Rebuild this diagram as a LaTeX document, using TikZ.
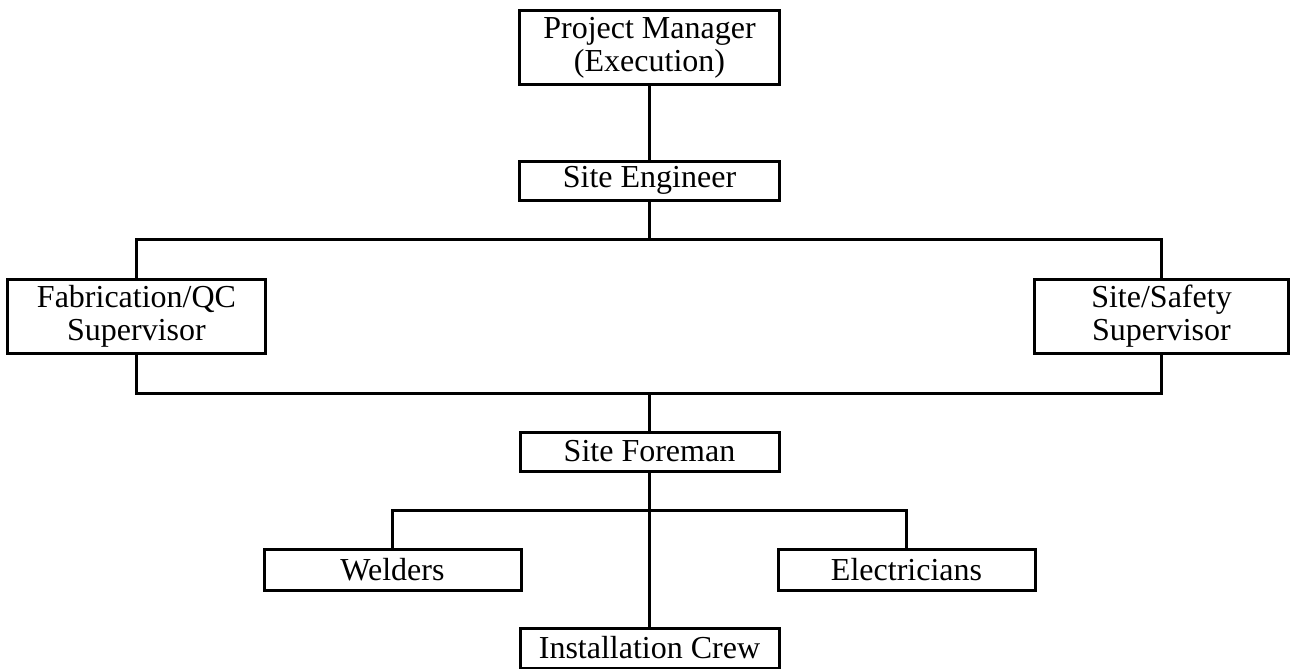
\documentclass[tikz,border=0pt]{standalone}
\usepackage{fontspec}
\setmainfont{Liberation Serif}
\usepackage{tikz}
\usetikzlibrary{positioning, calc}

\begin{document}
\begin{tikzpicture}[
  x=1pt, y=-1pt,
  box/.style={draw=black, fill=white, line width=3pt, inner sep=0pt, outer sep=0pt, align=center, font=\fontsize{32pt}{33pt}\selectfont},
  wide/.style={box, minimum width=259pt, minimum height=40pt},
  tall/.style={box, minimum width=258pt, minimum height=74pt},
  link/.style={line width=3pt, line cap=rect}
]
  \useasboundingbox (0,0) rectangle (1290,669);

  % Management
  \node[tall, minimum width=260pt, minimum height=73pt] (pm) at (649.5, 47.5) {Project Manager\\(Execution)};
  \node[wide, minimum width=260pt, minimum height=39pt] (se) at (649.5, 180.5) {Site Engineer};

  % Supervisors
  \node[tall] (fab) at (136.5, 316) {Fabrication/QC\\Supervisor};
  \node[tall, minimum width=254pt] (safe) at (1161.5, 316) {Site/Safety\\Supervisor};

  % Foreman and crews
  \node[wide, minimum height=39pt] (fore) at (649.5, 451.5) {Site Foreman};
  \node[wide, minimum width=257pt, minimum height=41pt] (weld) at (392.5, 569.5) {Welders};
  \node[wide, minimum width=257pt, minimum height=41pt] (elec) at (906.5, 569.5) {Electricians};
  \node[wide] (crew) at (649.5, 648) {Installation Crew};

  \coordinate (jtop) at (649.5, 239.5);
  \coordinate (jbot) at (649.5, 393.5);
  \coordinate (jcrew) at (649.5, 510.5);

  % Connectors
  \draw[link] (pm.south) -- (se.north);
  \draw[link] (se.south) -- (jtop);
  \draw[link] (fab.north) -- (fab.north |- jtop) -- (safe.north |- jtop) -- (safe.north);
  \draw[link] (fab.south) -- (fab.south |- jbot) -- (safe.south |- jbot) -- (safe.south);
  \draw[link] (jbot) -- (fore.north);
  \draw[link] (fore.south) -- (crew.north);
  \draw[link] (weld.north) -- (weld.north |- jcrew) -- (elec.north |- jcrew) -- (elec.north);
\end{tikzpicture}
\end{document}
